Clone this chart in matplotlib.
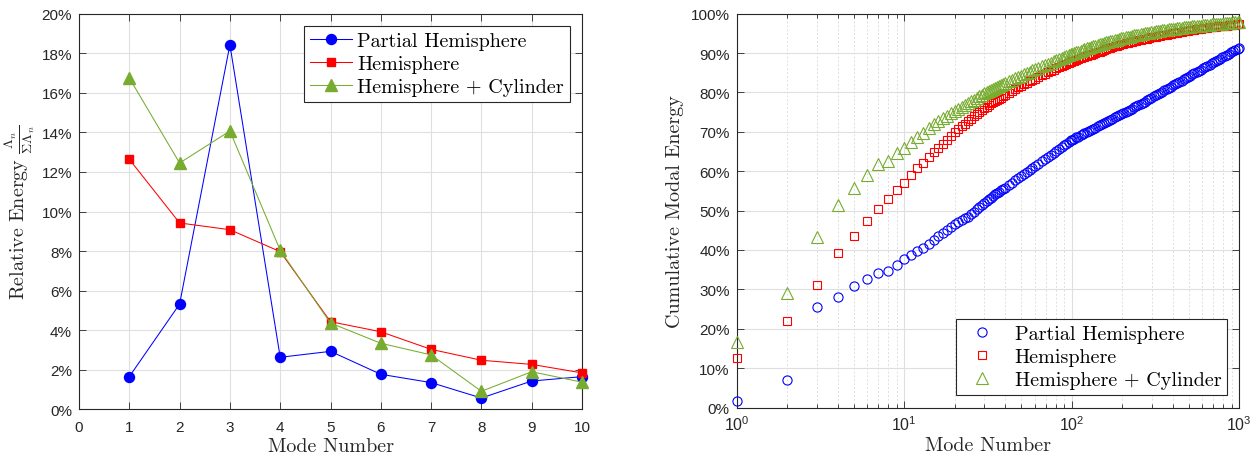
import numpy as np
import matplotlib
matplotlib.use("Agg")
import matplotlib.pyplot as plt
from matplotlib.ticker import PercentFormatter, FixedLocator, FixedFormatter, LogLocator, NullFormatter

plt.rcParams['mathtext.fontset'] = 'cm'
plt.rcParams['font.family'] = ['Liberation Sans', 'DejaVu Sans']
plt.rcParams['axes.unicode_minus'] = False

# ---------------- data ----------------
series_names = ["Partial Hemisphere", "Hemisphere", "Hemisphere + Cylinder"]
modes_rel = [1, 2, 3, 4, 5, 6, 7, 8, 9, 10]
rel_partial = [1.65, 5.32, 18.43, 2.63, 2.93, 1.77, 1.35, 0.57, 1.43, 1.65]
rel_hemi = [12.64, 9.42, 9.08, 7.97, 4.43, 3.92, 3.03, 2.48, 2.27, 1.84]
rel_hemicyl = [16.75, 12.45, 14.07, 8.04, 4.36, 3.34, 2.75, 0.91, 1.90, 1.37]

modes_cum = (list(range(1, 41))
             + [42, 44, 46, 48, 50, 52, 54, 56, 58, 60]
             + [63, 66, 69, 72, 75, 78, 81, 84, 87, 90, 93, 96, 99]
             + [100, 103, 106, 109, 113, 116, 119, 123, 127, 130,
                134, 138, 143, 147, 151, 156, 160, 165, 170, 175,
                181, 186, 192, 198, 203, 210, 216, 222, 229, 236,
                243, 250, 258, 265, 273, 282, 290, 299, 308, 317,
                327, 336, 347, 357, 368, 379, 390, 402, 414, 426,
                439, 452, 466, 480, 494, 509, 524, 540, 556, 573,
                590, 608, 626, 645, 664, 684, 705, 726, 748, 770,
                793, 817, 842, 867, 893, 920, 947, 976, 1000])

cum_partial = [1.65, 6.97, 25.40, 28.03, 30.96, 32.73, 34.08, 34.65, 36.08, 37.73,
               38.7, 39.7, 40.6, 41.6, 42.6, 43.6, 44.4, 45.2, 45.9, 46.5,
               47.0, 47.5, 48.0, 48.5, 49.1, 49.7, 50.3, 50.8, 51.4, 52.0,
               52.5, 52.9, 53.3, 53.7, 54.1, 54.4, 54.8, 55.2, 55.5, 55.8,
               56.5, 57.1, 57.7, 58.3, 58.8, 59.3, 59.8, 60.3, 60.8, 61.2,
               61.9, 62.5, 63.1, 63.6, 64.2, 64.7, 65.2, 65.7, 66.1, 66.6, 67.0, 67.4, 67.9,
               68.0, 68.3, 68.6, 68.8, 69.2, 69.4, 69.7, 70.0, 70.3, 70.5,
               70.8, 71.1, 71.4, 71.7, 71.9, 72.2, 72.5, 72.8, 73.1, 73.3,
               73.7, 73.9, 74.2, 74.5, 74.8, 75.1, 75.4, 75.6, 75.9, 76.2,
               76.5, 76.8, 77.1, 77.4, 77.7, 78.0, 78.3, 78.7, 79.0, 79.3,
               79.6, 79.9, 80.2, 80.5, 80.8, 81.1, 81.4, 81.8, 82.1, 82.4,
               82.7, 83.0, 83.3, 83.7, 84.0, 84.3, 84.6, 84.9, 85.2, 85.5,
               85.8, 86.2, 86.5, 86.8, 87.1, 87.4, 87.7, 88.0, 88.3, 88.6,
               88.9, 89.2, 89.5, 89.8, 90.2, 90.5, 90.7, 91.0, 91.3]
cum_hemi = [12.64, 22.06, 31.14, 39.11, 43.54, 47.46, 50.49, 52.97, 55.24, 57.08,
            59.0, 60.7, 62.2, 63.6, 64.9, 66.0, 67.0, 68.0, 69.0, 69.9,
            70.7, 71.4, 72.1, 72.7, 73.3, 73.9, 74.5, 75.0, 75.5, 76.0,
            76.4, 76.8, 77.2, 77.5, 77.8, 78.1, 78.4, 78.7, 79.0, 79.3,
            79.8, 80.3, 80.8, 81.3, 81.7, 82.1, 82.5, 82.8, 83.2, 83.5,
            84.0, 84.4, 84.8, 85.1, 85.5, 85.8, 86.1, 86.4, 86.7, 87.0, 87.3, 87.6, 87.8,
            87.9, 88.1, 88.3, 88.5, 88.7, 88.9, 89.1, 89.3, 89.5, 89.6,
            89.8, 90.0, 90.2, 90.4, 90.6, 90.8, 91.0, 91.2, 91.4, 91.5,
            91.7, 91.8, 92.0, 92.2, 92.3, 92.5, 92.6, 92.7, 92.9, 93.0,
            93.1, 93.2, 93.4, 93.5, 93.6, 93.7, 93.8, 94.0, 94.1, 94.2,
            94.3, 94.4, 94.5, 94.6, 94.7, 94.8, 94.9, 95.0, 95.1, 95.2,
            95.3, 95.4, 95.5, 95.6, 95.7, 95.8, 95.9, 95.9, 96.0, 96.1,
            96.2, 96.3, 96.4, 96.4, 96.5, 96.6, 96.7, 96.7, 96.8, 96.9,
            96.9, 97.0, 97.0, 97.1, 97.1, 97.2, 97.2, 97.3, 97.3]
cum_hemicyl = [16.75, 29.20, 43.27, 51.31, 55.67, 59.01, 61.76, 62.67, 64.57, 65.94,
               67.5, 68.7, 69.8, 70.9, 71.9, 72.7, 73.4, 74.1, 74.7, 75.3,
               75.8, 76.4, 76.9, 77.4, 77.8, 78.2, 78.6, 79.0, 79.4, 79.8,
               80.1, 80.4, 80.7, 80.9, 81.2, 81.4, 81.7, 81.9, 82.2, 82.4,
               82.8, 83.2, 83.6, 84.0, 84.3, 84.6, 84.9, 85.3, 85.6, 85.9,
               86.3, 86.6, 87.0, 87.3, 87.6, 87.9, 88.2, 88.5, 88.8, 89.0, 89.3, 89.5, 89.7,
               89.8, 90.0, 90.2, 90.4, 90.6, 90.8, 91.0, 91.2, 91.4, 91.5,
               91.7, 91.9, 92.0, 92.2, 92.4, 92.6, 92.7, 92.9, 93.0, 93.1,
               93.3, 93.4, 93.6, 93.8, 93.9, 94.0, 94.1, 94.2, 94.4, 94.5,
               94.6, 94.7, 94.8, 94.9, 95.0, 95.1, 95.2, 95.3, 95.4, 95.5,
               95.6, 95.7, 95.8, 95.8, 95.9, 96.0, 96.1, 96.1, 96.2, 96.3,
               96.4, 96.4, 96.5, 96.6, 96.6, 96.7, 96.8, 96.8, 96.9, 96.9,
               97.0, 97.1, 97.1, 97.2, 97.2, 97.3, 97.3, 97.4, 97.4, 97.5,
               97.5, 97.6, 97.6, 97.7, 97.7, 97.8, 97.8, 97.9, 97.9]

left_xticks = list(range(0, 11))
left_yticks = list(range(0, 21, 2))
right_yticks = list(range(0, 101, 10))
right_xticks = [1, 10, 100, 1000]
right_xticklabels = [r'$\mathregular{10^{0}}$', r'$\mathregular{10^{1}}$',
                     r'$\mathregular{10^{2}}$', r'$\mathregular{10^{3}}$']

colors = ['#0000FF', '#FF0000', '#77AC30']
TXT = '#262626'
GRID = '#DFDFDF'
label_font = 'cmr10'

fig = plt.figure(figsize=(12.58, 4.6), dpi=100)
ax1 = fig.add_axes([79/1258, 49.7/460, 503/1258, 395.6/460])
ax2 = fig.add_axes([736.7/1258, 51.5/460, 502.6/1258, 393.8/460])

def style_axes(ax):
    for s in ax.spines.values():
        s.set_color(TXT)
        s.set_linewidth(0.8)
    ax.tick_params(which='both', direction='in', top=True, right=True, colors=TXT,
                   labelsize=11, width=0.6)
    ax.tick_params(which='major', length=5)
    ax.tick_params(which='minor', length=3)
    ax.tick_params(axis='x', which='major', pad=8)
    ax.tick_params(axis='y', which='major', pad=5)
    ax.set_axisbelow(True)

# ---------------- left ----------------
ax1.plot(modes_rel, rel_partial, '-o', color=colors[0], lw=0.75, ms=7.2, mec=colors[0],
         mfc=colors[0], clip_on=False, zorder=3, label=series_names[0])
ax1.plot(modes_rel, rel_hemi, '-s', color=colors[1], lw=0.75, ms=5.4, mec=colors[1],
         mfc=colors[1], clip_on=False, zorder=3, label=series_names[1])
ax1.plot(modes_rel, rel_hemicyl, '-^', color=colors[2], lw=0.75, ms=8.3, mec=colors[2],
         mfc=colors[2], clip_on=False, zorder=3, label=series_names[2])
ax1.set_xlim(0, 10)
ax1.set_ylim(0, 20)
ax1.set_xticks(left_xticks)
ax1.set_yticks(left_yticks)
ax1.yaxis.set_major_formatter(PercentFormatter(xmax=100, decimals=0))
ax1.grid(True, color=GRID, lw=0.8)
style_axes(ax1)
ax1.set_xlabel('Mode Number', family=label_font, fontsize=14.5, color=TXT, labelpad=2)
ax1.set_ylabel(r'$\mathrm{Relative\ Energy}\ \frac{\Lambda_n}{\Sigma\Lambda_n}$', fontsize=14.5,
               color=TXT, labelpad=3)
leg1 = ax1.legend(loc='upper right', prop={'family': label_font, 'size': 14.5}, fancybox=False,
                  edgecolor=TXT, framealpha=1, borderaxespad=0.6, handlelength=2.1,
                  handletextpad=0.25, labelspacing=0.25, borderpad=0.3)
leg1.get_frame().set_linewidth(0.8)

# ---------------- right ----------------
ax2.plot(modes_cum, cum_partial, 'o', ls='none', ms=6.6, mfc='none', mec=colors[0], mew=0.8,
         clip_on=False, zorder=3, label=series_names[0])
ax2.plot(modes_cum, cum_hemi, 's', ls='none', ms=5.4, mfc='none', mec=colors[1], mew=0.8,
         clip_on=False, zorder=3, label=series_names[1])
ax2.plot(modes_cum, cum_hemicyl, '^', ls='none', ms=8.0, mfc='none', mec=colors[2], mew=0.8,
         clip_on=False, zorder=3, label=series_names[2])
ax2.set_xscale('log')
ax2.set_xlim(1, 1000)
ax2.set_ylim(0, 100)
ax2.xaxis.set_major_locator(FixedLocator(right_xticks))
ax2.xaxis.set_major_formatter(FixedFormatter(right_xticklabels))
ax2.xaxis.set_minor_locator(LogLocator(base=10, subs=np.arange(2, 10)))
ax2.xaxis.set_minor_formatter(NullFormatter())
ax2.set_yticks(right_yticks)
ax2.yaxis.set_major_formatter(PercentFormatter(xmax=100, decimals=0))
ax2.grid(True, which='major', color=GRID, lw=0.8)
ax2.grid(True, which='minor', axis='x', color=GRID, lw=0.7, ls=(0, (2, 2)))
style_axes(ax2)
ax2.tick_params(axis='x', which='major', labelsize=11.5, pad=5)
ax2.set_xlabel('Mode Number', family=label_font, fontsize=14.5, color=TXT, labelpad=2)
ax2.set_ylabel('Cumulative Modal Energy', family=label_font, fontsize=14.5, color=TXT, labelpad=5)
leg2 = ax2.legend(loc='lower right', prop={'family': label_font, 'size': 14.5}, fancybox=False,
                  edgecolor=TXT, framealpha=1, borderaxespad=0.6, handlelength=2.0,
                  handletextpad=0.6, labelspacing=0.25, borderpad=0.3)
leg2.get_frame().set_linewidth(0.8)

fig.savefig('out.png', dpi=100)
